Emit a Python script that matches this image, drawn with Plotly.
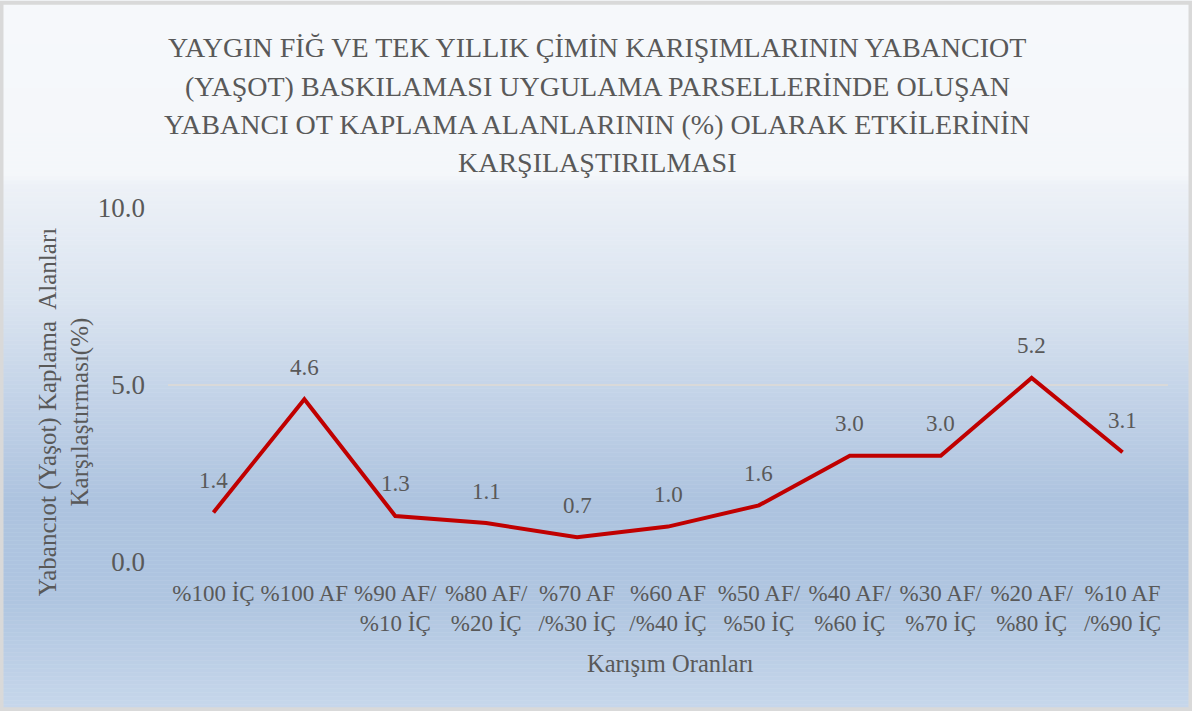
import plotly.graph_objects as go

# ---- data ----
categories = [
    "%100 İÇ", "%100 AF", "%90 AF/<br>%10 İÇ", "%80 AF/<br>%20 İÇ",
    "%70 AF<br>/%30 İÇ", "%60 AF<br>/%40 İÇ", "%50 AF/<br>%50 İÇ",
    "%40 AF/<br>%60 İÇ", "%30 AF/<br>%70 İÇ", "%20 AF/<br>%80 İÇ",
    "%10 AF<br>/%90 İÇ",
]
values = [1.4, 4.6, 1.3, 1.1, 0.7, 1.0, 1.6, 3.0, 3.0, 5.2, 3.1]
y_ticks = [0, 5, 10]

title_lines = [
    "YAYGIN FİĞ VE TEK YILLIK ÇİMİN KARIŞIMLARININ YABANCIOT",
    "(YAŞOT) BASKILAMASI UYGULAMA PARSELLERİNDE OLUŞAN",
    "YABANCI OT KAPLAMA ALANLARININ (%) OLARAK ETKİLERİNİN",
    "KARŞILAŞTIRILMASI",
]
x_title = "Karışım Oranları"
y_title = "Yabancıot (Yaşot) Kaplama  Alanları<br>Karşılaştırması(%)"

# ---- geometry (pixels) ----
W, H = 1192, 711
L, R = 168, 1168
T, B = 207.7, 561.7
FONT = "Times New Roman, Liberation Serif, serif"
GREY = "#595959"


def px_x(p):
    return (p - L) / (R - L)


def px_y(p):
    return (B - p) / (B - T)


fig = go.Figure()
fig.add_trace(go.Scatter(
    x=categories, y=values, mode="lines",
    line=dict(color="#c00000", width=4),
    hoverinfo="x+y", showlegend=False,
))

annotations = []
for c, v in zip(categories, values):
    annotations.append(dict(
        x=c, y=v, xref="x", yref="y", text=f"{v:.1f}", showarrow=False,
        yshift=32, font=dict(family=FONT, size=23, color=GREY),
    ))

title_centers = [47, 86, 124, 162]
for line, cy in zip(title_lines, title_centers):
    annotations.append(dict(
        x=px_x(W / 2 + 1), y=px_y(cy), xref="paper", yref="paper",
        text=line, showarrow=False, xanchor="center", yanchor="middle",
        font=dict(family=FONT, size=28, color=GREY),
    ))

annotations.append(dict(
    x=px_x(64), y=px_y(412), xref="paper", yref="paper", text=y_title,
    showarrow=False, textangle=-90, xanchor="center", yanchor="middle",
    font=dict(family=FONT, size=25, color=GREY),
))
annotations.append(dict(
    x=px_x(670), y=px_y(663), xref="paper", yref="paper", text=x_title,
    showarrow=False, xanchor="center", yanchor="middle",
    font=dict(family=FONT, size=24.5, color=GREY),
))

# ---- background gradient (strips) ----
stops = [
    (0, (246, 248, 251)),
    (175, (244, 247, 250)),
    (185, (237, 241, 247)),
    (300, (218, 228, 240)),
    (400, (194, 210, 231)),
    (500, (173, 195, 223)),
    (600, (175, 197, 224)),
    (711, (199, 215, 235)),
]


def color_at(p):
    for (p0, c0), (p1, c1) in zip(stops[:-1], stops[1:]):
        if p0 <= p <= p1:
            t = 0 if p1 == p0 else (p - p0) / (p1 - p0)
            c = [round(a + (b - a) * t) for a, b in zip(c0, c1)]
            return "rgb(%d,%d,%d)" % tuple(c)
    return "rgb(%d,%d,%d)" % stops[-1][1]


shapes = []
step = 4
for p in range(0, H, step):
    shapes.append(dict(
        type="rect", xref="paper", yref="paper", layer="below",
        x0=px_x(0), x1=px_x(W), y0=px_y(p + step + 0.5), y1=px_y(p),
        fillcolor=color_at(p + step / 2), line=dict(width=0),
    ))
# outer frame
shapes.append(dict(
    type="rect", xref="paper", yref="paper", layer="above",
    x0=px_x(1.5), x1=px_x(W - 1.5), y0=px_y(H - 2), y1=px_y(2.5),
    fillcolor="rgba(0,0,0,0)", line=dict(color="#d9d9d9", width=4),
))

fig.update_layout(
    width=W, height=H,
    margin=dict(l=L, r=W - R, t=T, b=H - B, pad=0, autoexpand=False),
    paper_bgcolor="#f6f8fb",
    plot_bgcolor="rgba(0,0,0,0)",
    shapes=shapes,
    annotations=annotations,
    font=dict(family=FONT, color=GREY),
    xaxis=dict(
        type="category", range=[-0.5, len(categories) - 0.5],
        showgrid=False, showline=False, zeroline=False,
        ticks="", tickfont=dict(family=FONT, size=23, color=GREY),
        ticklabelstandoff=15, tickangle=0, automargin=False,
    ),
    yaxis=dict(
        range=[0, 10], tickvals=y_ticks, tickformat=".1f",
        showgrid=True, gridcolor="#d9d9d9", gridwidth=1.5,
        zeroline=False, showline=False, ticks="",
        tickfont=dict(family=FONT, size=27, color=GREY),
        ticklabelstandoff=22, automargin=False,
    ),
)

fig.write_html(
    "out.html",
    config={"displayModeBar": False},
    post_script="document.body.style.margin='0px';",
)
